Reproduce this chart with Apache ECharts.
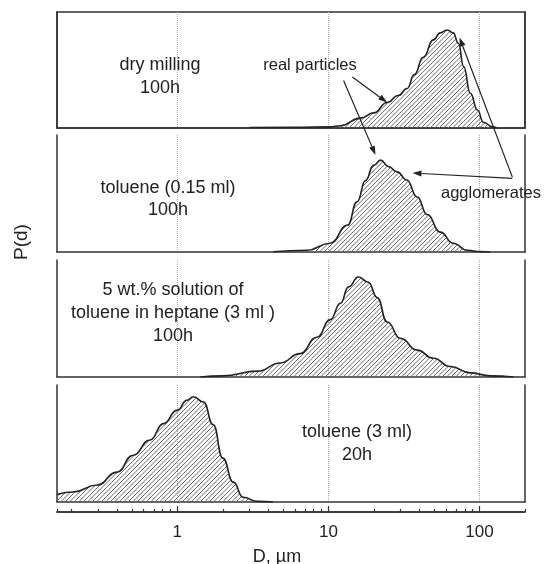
<!DOCTYPE html>
<html><head><meta charset="utf-8">
<script src="https://cdn.jsdelivr.net/npm/echarts@6/dist/echarts.min.js"></script>
<style>html,body{margin:0;padding:0;background:#fff}#c{width:545px;height:564px}</style>
</head><body><div id="c"></div>
<script>
// Panel 1: dry milling 100h
const dryD = [3, 6, 10.3, 12, 16.3, 19.9, 24.5, 29, 33.2, 37, 42.5, 49.5, 55, 61, 67, 72.5, 78.5, 87, 97, 106, 122, 130];
const dryP = [0.004, 0.006, 0.01, 0.02, 0.085, 0.13, 0.22, 0.28, 0.34, 0.46, 0.61, 0.76, 0.82, 0.845, 0.82, 0.73, 0.53, 0.30, 0.155, 0.05, 0.01, 0];
// Panel 2: toluene (0.15 ml) 100h
const tolD = [4.3, 7.2, 10.3, 13.4, 15.5, 17.6, 19.9, 22.2, 25, 28.5, 33, 38.7, 45, 55, 67, 83, 101, 118];
const tolP = [0.002, 0.015, 0.075, 0.23, 0.43, 0.61, 0.74, 0.785, 0.73, 0.685, 0.615, 0.47, 0.32, 0.17, 0.075, 0.015, 0.003, 0];
// Panel 3: 5 wt.% toluene in heptane (3 ml) 100h
const hepD = [1.42, 2.0, 3.4, 4.8, 6.5, 8.4, 10.3, 12, 13.6, 15.8, 18.4, 21, 24.5, 30, 38.7, 49.5, 64, 87, 118, 168];
const hepP = [0, 0.01, 0.05, 0.12, 0.2, 0.34, 0.49, 0.63, 0.77, 0.855, 0.81, 0.68, 0.47, 0.33, 0.23, 0.16, 0.09, 0.035, 0.01, 0];
// Panel 4: toluene (3 ml) 20h
const t3D = [0.16, 0.205, 0.295, 0.4, 0.51, 0.66, 0.81, 1.0, 1.16, 1.28, 1.49, 1.73, 2.0, 2.35, 2.73, 3.4, 4.3];
const t3P = [0.065, 0.085, 0.145, 0.255, 0.4, 0.53, 0.67, 0.785, 0.87, 0.9, 0.855, 0.66, 0.375, 0.17, 0.04, 0.005, 0];

const majorTicks = [1, 10, 100];
const minorTicks = [0.16, 0.2, 0.3, 0.4, 0.5, 0.6, 0.7, 0.8, 0.9, 2, 3, 4, 5, 6, 7, 8, 9, 20, 30, 40, 50, 60, 70, 80, 90, 200];
const panelLabels = [
  ['dry milling', '100h'],
  ['toluene (0.15 ml)', '100h'],
  ['5 wt.% solution of', 'toluene in heptane (3 ml )', '100h'],
  ['toluene (3 ml)', '20h']
];
const xName = 'D, \u00b5m';
const yName = 'P(d)';

const FONT = '"Liberation Sans", Arial, sans-serif';
const INK = '#222';

// hatch pattern
const hc = document.createElement('canvas');
const HS = 9;
hc.width = HS; hc.height = HS;
const hx = hc.getContext('2d');
hx.strokeStyle = '#6a6a6a';
hx.lineWidth = 1;
for (let c = -HS; c <= HS; c += HS / 2) {
  hx.beginPath();
  hx.moveTo(c, HS);
  hx.lineTo(c + HS, 0);
  hx.stroke();
}
const hatch = { image: hc, repeat: 'repeat' };

const grids = [
  { top: 12, height: 116 },
  { top: 135, height: 117 },
  { top: 260, height: 117 },
  { top: 385, height: 117 },
  { top: 504, height: 8 }      // tick-scale strip below the panels
].map((g, i) => Object.assign({ left: 57, right: 20, containLabel: false,
  show: i === 0, borderColor: '#333', borderWidth: 1.5 }, g));

const axisLineStyle = { color: '#333', width: 1.5 };
const xAxes = grids.slice(0, 4).map((g, i) => ({
  type: 'log', logBase: 10, gridIndex: i, min: 0.16, max: 200, position: 'bottom',
  axisLine: { show: true, lineStyle: axisLineStyle },
  axisTick: { show: false, customValues: majorTicks },
  axisLabel: { show: false },
  splitLine: { show: true, lineStyle: { color: '#aaa', type: 'dotted', width: 1 } }
}));
xAxes.push({
  type: 'log', logBase: 10, gridIndex: 4, min: 0.16, max: 200, position: 'bottom',
  axisLine: { show: true, lineStyle: axisLineStyle },
  axisTick: { show: true, inside: true, length: 3, customValues: minorTicks, lineStyle: { color: '#333', width: 1.2 } },
  axisLabel: { show: false }, splitLine: { show: false }
});
xAxes.push({
  type: 'log', logBase: 10, gridIndex: 4, min: 0.16, max: 200, position: 'bottom',
  axisLine: { show: true, lineStyle: axisLineStyle },
  axisTick: { show: true, inside: true, length: 6, customValues: majorTicks, lineStyle: { color: '#333', width: 1.2 } },
  axisLabel: { show: true, customValues: majorTicks, margin: 12, color: INK, fontSize: 17, fontFamily: FONT,
    formatter: v => String(+v) },
  splitLine: { show: false }
});

const yAxes = [];
grids.slice(0, 4).forEach((g, i) => {
  ['left', 'right'].forEach(pos => yAxes.push({
    type: 'value', gridIndex: i, min: 0, max: 1, position: pos,
    axisLine: { show: true, lineStyle: axisLineStyle },
    axisTick: { show: false }, axisLabel: { show: false }, splitLine: { show: false }
  }));
});
yAxes.push({ type: 'value', gridIndex: 4, min: 0, max: 1, show: false });

const zip = (a, b) => a.map((v, k) => [v, b[k]]);
const seriesData = [zip(dryD, dryP), zip(tolD, tolP), zip(hepD, hepP), zip(t3D, t3P)];
const series = seriesData.map((d, i) => ({
  type: 'line', xAxisIndex: i, yAxisIndex: 2 * i, data: d,
  smooth: 0.5, smoothMonotone: 'x', symbol: 'none', silent: true,
  lineStyle: { color: INK, width: 1.6 },
  areaStyle: { color: hatch, opacity: 1 }
}));

const chart = echarts.init(document.getElementById('c'), null, { renderer: 'canvas' });
chart.setOption({
  animation: false,
  backgroundColor: '#fff',
  grid: grids, xAxis: xAxes, yAxis: yAxes, series: series
});

// annotations
const txt = (x, y, s, size, extra) => Object.assign({
  type: 'text', x: x, y: y, z: 100,
  style: { text: s, fill: INK, fontSize: size, fontFamily: FONT, align: 'center', verticalAlign: 'middle' }
}, extra || {});

const gfx = [];
const panelTextPos = [
  [160, 65, 23], [168, 188, 22], [173, 290, 23], [357, 432, 23]
];
panelLabels.forEach((lines, i) => {
  const [cx, cy, lh] = panelTextPos[i];
  lines.forEach((s, k) => gfx.push(txt(cx, cy + k * lh, s, 18)));
});
gfx.push(txt(310, 65, 'real particles', 16.5));
gfx.push(txt(491, 193, 'agglomerates', 16.5));
gfx.push(txt(277, 557, xName, 18));
gfx.push(txt(22, 242, yName, 19, { rotation: Math.PI / 2 }));

const px = (g, p) => chart.convertToPixel({ gridIndex: g }, p);
// arrows: [grid, start data], [grid, tip data]
const arrows = [
  [[0, [14.4, 0.44]], [0, [24.5, 0.22]]],
  [[0, [12.6, 0.41]], [1, [20.5, 0.83]]],
  [[1, [165, 0.64]], [0, [73.7, 0.78]]],
  [[1, [165, 0.63]], [1, [36, 0.675]]]
];
arrows.forEach(([s, t]) => {
  const a = px(s[0], s[1]);
  const b = px(t[0], t[1]);
  const dx = b[0] - a[0], dy = b[1] - a[1];
  const L = Math.hypot(dx, dy);
  const ux = dx / L, uy = dy / L;
  const hl = 9, hw = 3;
  const bx = b[0] - ux * hl, by = b[1] - uy * hl;
  gfx.push({ type: 'line', z: 100, shape: { x1: a[0], y1: a[1], x2: bx, y2: by },
    style: { stroke: INK, lineWidth: 1.2 } });
  gfx.push({ type: 'polygon', z: 100, shape: { points: [
    [b[0], b[1]], [bx - uy * hw, by + ux * hw], [bx + uy * hw, by - ux * hw]] },
    style: { fill: INK } });
});
chart.setOption({ graphic: gfx });
</script></body></html>
